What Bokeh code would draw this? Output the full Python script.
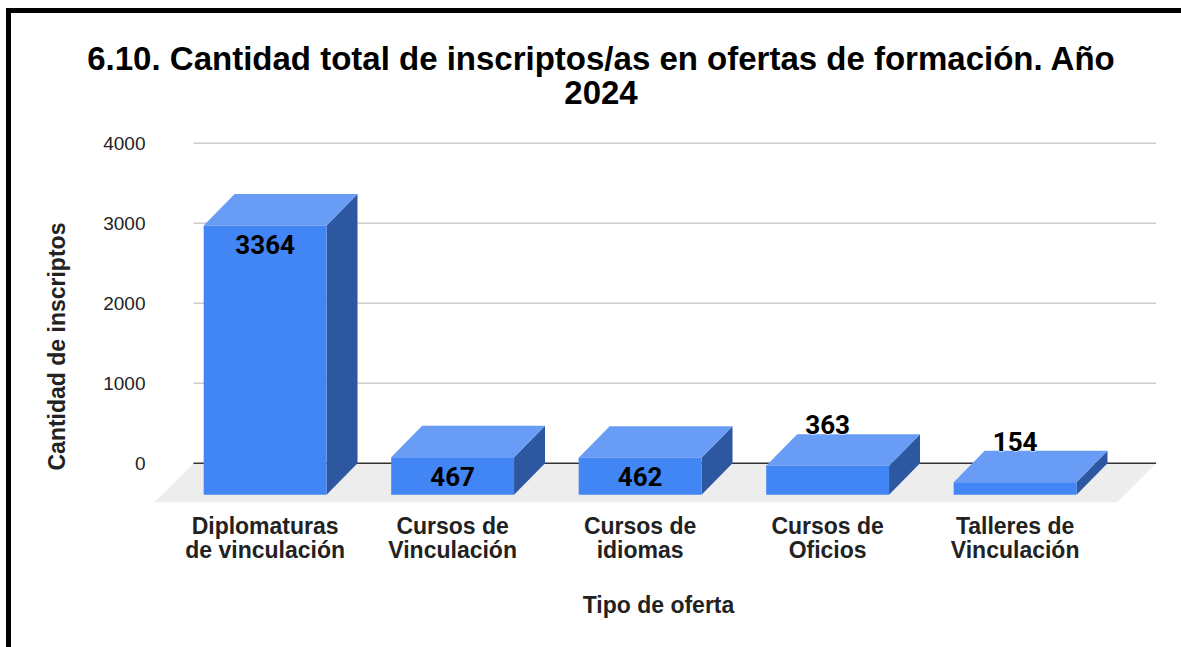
from bokeh.plotting import figure
from bokeh.models import Range1d, FixedTicker, ColumnDataSource, Title, Div
from bokeh.layouts import column
from bokeh.embed import file_html
from bokeh.resources import INLINE
from bokeh.core.properties import value

# ---------------- data ----------------
categories = [
    "Diplomaturas\nde vinculación",
    "Cursos de\nVinculación",
    "Cursos de\nidiomas",
    "Cursos de\nOficios",
    "Talleres de\nVinculación",
]
inscriptos = [3364, 467, 462, 363, 154]
y_ticks = [0, 1000, 2000, 3000, 4000]
title_lines = ["6.10. Cantidad total de inscriptos/as en ofertas de formación. Año", "2024"]
x_title = "Tipo de oferta"
y_title = "Cantidad de inscriptos"

# ---------------- geometry ----------------
PX_X = 187.7      # px per category step
PX_Y = 0.08       # px per value unit
BAR_W = 123 / PX_X
DX = 31 / PX_X    # depth offset in x
DY = 31.5 / PX_Y  # depth offset in y
FLOOR_DX = 39 / PX_X
FLOOR_DY = 39 / PX_Y

FRONT_COLOR = "#4285f4"
TOP_COLOR = "#699cf4"
SIDE_COLOR = "#2d57a1"
FONT = "Liberation Sans"

n = len(inscriptos)
xs = list(range(n))

p = figure(width=1160, height=534, output_backend="svg", toolbar_location=None,
           x_range=Range1d(-0.606, 4.802), y_range=Range1d(-529, 4296),
           min_border_left=139, min_border_right=6, min_border_top=6, min_border_bottom=142)
p.outline_line_color = None
p.xgrid.visible = False
p.ygrid.visible = False
p.background_fill_color = "white"
p.border_fill_color = "white"

# floor
back_left = -0.3825
back_right = (n - 1) + 0.752
p.patch([back_left - FLOOR_DX, back_right - FLOOR_DX, back_right, back_left],
        [-FLOOR_DY, -FLOOR_DY, 0, 0], fill_color="#ededed", line_color=None)

# gridlines on the back wall
gy = [t for t in y_ticks if t > 0]
p.segment(x0=[back_left] * len(gy), x1=[back_right] * len(gy), y0=gy, y1=gy,
          line_color="#cccccc", line_width=1.5)
p.segment(x0=[back_left], x1=[back_right], y0=[0], y1=[0], line_color="#333333", line_width=1.5)

# 3D bars
fl = [x - BAR_W / 2 for x in xs]
fr = [x + BAR_W / 2 for x in xs]
tops_x = [[l, r, r + DX, l + DX] for l, r in zip(fl, fr)]
tops_y = [[v - DY, v - DY, v, v] for v in inscriptos]
side_x = [[r, r + DX, r + DX, r] for r in fr]
side_y = [[-DY, 0, v, v - DY] for v in inscriptos]
p.patches(side_x, side_y, fill_color=SIDE_COLOR, line_color=None)
p.patches(tops_x, tops_y, fill_color=TOP_COLOR, line_color=None)
p.quad(left=fl, right=fr, bottom=[-DY] * n, top=[v - DY for v in inscriptos],
       fill_color=FRONT_COLOR, line_color=None)

# data labels
inside = [v * PX_Y > 33 for v in inscriptos]
in_src = ColumnDataSource(dict(
    x=[x for x, f in zip(xs, inside) if f],
    y=[v - DY - 19 / PX_Y for v, f in zip(inscriptos, inside) if f],
    t=[str(v) for v, f in zip(inscriptos, inside) if f]))
out_src = ColumnDataSource(dict(
    x=[x for x, f in zip(xs, inside) if not f],
    y=[v + 9.5 / PX_Y for v, f in zip(inscriptos, inside) if not f],
    t=[str(v) for v, f in zip(inscriptos, inside) if not f]))
lbl = dict(text_font=value("Roboto"), text_font_style="bold", text_font_size="26px",
           text_align="center", text_baseline="middle", text_color="#000000")
p.text(x="x", y="y", text="t", source=in_src, **lbl)
p.text(x="x", y="y", text="t", source=out_src, text_outline_color="white", **lbl)
p.text(x="x", y="y", text="t", source=out_src, **lbl)

# axes
p.yaxis.ticker = FixedTicker(ticks=y_ticks)
p.yaxis.axis_line_color = None
p.yaxis.major_tick_line_color = None
p.yaxis.minor_tick_line_color = None
p.yaxis.major_tick_out = 0
p.yaxis.major_label_standoff = 6
p.yaxis.major_label_text_font = FONT
p.yaxis.major_label_text_font_size = "19px"
p.yaxis.major_label_text_color = "#222222"

p.xaxis.ticker = FixedTicker(ticks=xs)
p.xaxis.major_label_overrides = {i: c for i, c in zip(xs, categories)}
p.xaxis.axis_line_color = None
p.xaxis.major_tick_line_color = None
p.xaxis.minor_tick_line_color = None
p.xaxis.major_tick_out = 0
p.xaxis.major_label_standoff = 7
p.xaxis.major_label_text_font = FONT
p.xaxis.major_label_text_font_style = "bold"
p.xaxis.major_label_text_font_size = "23px"
p.xaxis.major_label_text_line_height = 0.93
p.xaxis.major_label_text_color = "#222222"
p.xaxis.axis_label = x_title
p.xaxis.axis_label_text_font = FONT
p.xaxis.axis_label_text_font_style = "bold"
p.xaxis.axis_label_text_font_size = "23px"
p.xaxis.axis_label_text_color = "#222222"
p.xaxis.axis_label_standoff = 26

# vertical axis title
p.add_layout(Title(text=y_title, align="left", offset=35, standoff=61, text_font=FONT,
                   text_font_style="bold", text_font_size="23px", text_color="#222222"), "left")

# main title
title_html = (
    '<div style="margin-left:15px; width:1140px; padding-top:24px; text-align:center; '
    'font-family:\'Liberation Sans\'; font-weight:bold; font-size:33px; line-height:34px; color:#000;">'
    + "<br>".join(title_lines) + "</div>"
)
head = Div(text=title_html, width=1160, height=90)

layout = column(head, p, spacing=0,
                styles={"border-top": "5px solid black", "border-left": "5px solid black",
                        "margin-left": "6px", "margin-top": "8px"})

open("out.html", "w").write(file_html(layout, INLINE))
